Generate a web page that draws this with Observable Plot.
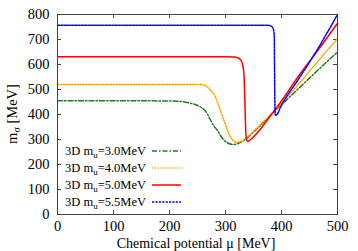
<!DOCTYPE html>
<html><head><meta charset="utf-8">
<script src="https://cdn.jsdelivr.net/npm/d3@7"></script>
<script src="https://cdn.jsdelivr.net/npm/@observablehq/plot@0.6"></script>
<style>body{margin:0;background:#fff}</style>
</head><body><div id="chart"></div>
<script>
const xTicks = [0, 100, 200, 300, 400, 500];
const yTicks = [0, 100, 200, 300, 400, 500, 600, 700, 800];

const seriesNames = ["3.0", "4.0", "5.0", "5.5"];
const seriesColors = ["#1e7d1e", "#ffa500", "#ff0000", "#0000ff"];
const seriesDash = ["5,2,1.5,2", "1.2,1.6", null, "2.2,1.2"];

const mu30 = [0, 100, 200, 220, 235, 250, 264, 279, 285, 297, 314, 330, 350, 370, 385, 398, 430, 460, 500];
const m30  = [455, 455, 454, 452, 446, 436, 414, 355, 338, 298, 280, 292, 330, 373, 408, 435, 503, 567, 650];

const mu40 = [0, 200, 255, 265, 273, 282, 291, 299, 306, 313, 321, 330, 345, 365, 385, 398, 430, 460, 500];
const m40  = [520, 520, 520, 514, 498, 470, 416, 365, 323, 298, 289, 295, 322, 366, 409, 440, 520, 600, 703];

const mu50 = [0, 300, 315, 323, 328, 331, 333, 334, 335, 336, 337.5, 340, 345, 360, 374, 385, 398, 434, 470, 500];
const m50  = [631, 631, 630, 626, 615, 595, 560, 500, 420, 340, 300, 292, 300, 335, 376, 409, 448, 565, 672, 765];

const mu55 = [0, 200, 375, 381, 385, 387, 387.5, 388, 388.5, 389, 392, 398, 430, 460, 500];
const m55  = [757, 757, 757, 754, 745, 720, 600, 480, 410, 397, 400, 428, 540, 645, 800];

const muArrays = [mu30, mu40, mu50, mu55];
const mArrays = [m30, m40, m50, m55];

const lineMarks = muArrays.map((mus, i) =>
  Plot.line(mus.map((x, j) => ({x, y: mArrays[i][j]})), {
    x: "x", y: "y", stroke: seriesColors[i], strokeWidth: 1.5,
    strokeDasharray: seriesDash[i], curve: "monotone-x"
  })
);

const chart = Plot.plot({
  width: 358, height: 251,
  marginLeft: 57, marginRight: 21, marginTop: 14, marginBottom: 37,
  style: {fontFamily: "Liberation Serif", fontSize: "14px", background: "#fff", color: "#000"},
  x: {domain: [0, 500], label: null},
  y: {domain: [0, 800], label: null},
  marks: [
    Plot.gridX(xTicks, {stroke: "#444", strokeOpacity: 1, insetTop: 196}),
    Plot.gridX(xTicks, {stroke: "#444", strokeOpacity: 1, insetBottom: 196}),
    Plot.gridY(yTicks, {stroke: "#444", strokeOpacity: 1, insetRight: 276}),
    Plot.gridY(yTicks, {stroke: "#444", strokeOpacity: 1, insetLeft: 276}),
    Plot.axisX(xTicks, {anchor: "bottom", tickSize: 0, tickPadding: 6, label: null, fontSize: 14.5}),
    Plot.axisY(yTicks, {anchor: "left", tickSize: 0, tickPadding: 8, label: null, fontSize: 14.5}),
    ...lineMarks,
    Plot.frame({stroke: "#444", strokeWidth: 1})
  ]
});

document.getElementById("chart").appendChild(chart);

const svg = d3.select(chart);
const ff = "Liberation Serif";
// axis labels
const xl = svg.append("text").attr("x", 196).attr("y", 248).attr("text-anchor", "middle")
  .attr("font-family", ff).attr("font-size", 14).attr("fill", "#000");
xl.text("Chemical potential μ [MeV]");

const yl = svg.append("text").attr("transform", "translate(17,114) rotate(-90)")
  .attr("text-anchor", "middle").attr("font-family", ff).attr("font-size", 14.5).attr("fill", "#000");
yl.append("tspan").text("m");
yl.append("tspan").attr("font-size", 10).attr("dy", 3).text("σ");
yl.append("tspan").attr("dy", -3).text(" [MeV]");

// legend
const rowsY = [151, 168, 185, 202];
seriesNames.forEach((name, i) => {
  const y = rowsY[i];
  const t = svg.append("text").attr("x", 146).attr("y", y + 4).attr("text-anchor", "end")
    .attr("font-family", ff).attr("font-size", 12.5).attr("fill", "#000");
  t.append("tspan").text("3D m");
  t.append("tspan").attr("font-size", 9).attr("dy", 3).text("u");
  t.append("tspan").attr("dy", -3).text("=" + name + "MeV");
  svg.append("line").attr("x1", 152).attr("x2", 181).attr("y1", y).attr("y2", y)
    .attr("stroke", seriesColors[i]).attr("stroke-width", 1.5)
    .attr("stroke-dasharray", seriesDash[i]);
});
</script>
</body></html>
